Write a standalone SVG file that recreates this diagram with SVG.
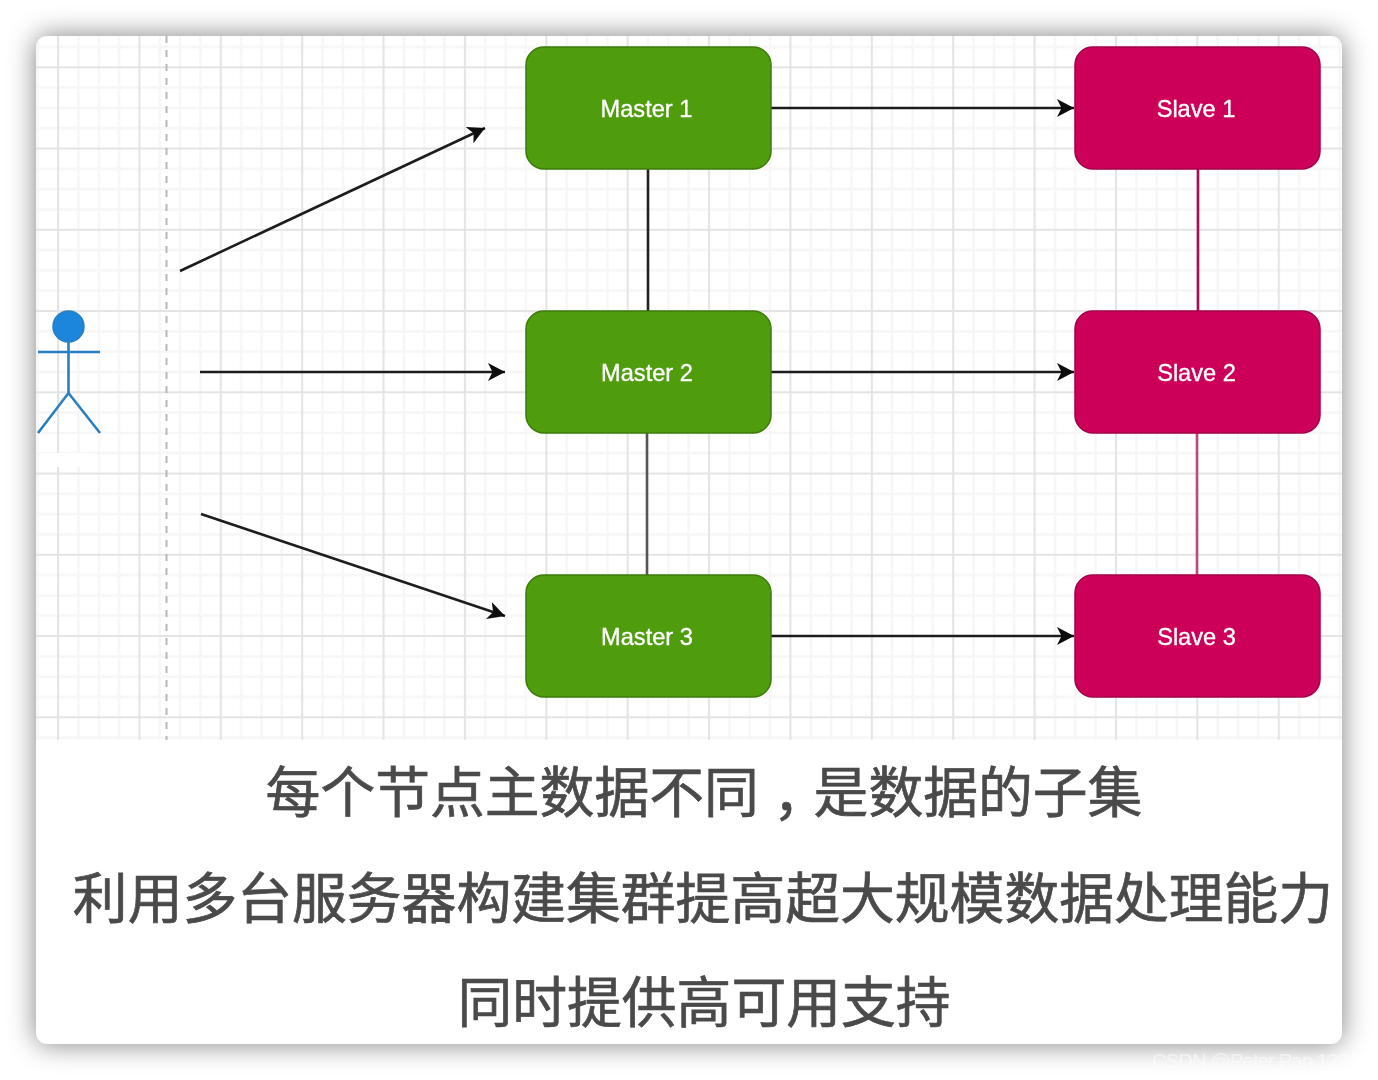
<svg xmlns="http://www.w3.org/2000/svg" width="1378" height="1080" viewBox="0 0 1378 1080">
  <style>
    .caption { font-family: "Liberation Sans", "Noto Sans CJK SC", sans-serif; font-size: 54.8px; fill: #4a4a4a; stroke: #4a4a4a; stroke-width: 0.7; text-anchor: middle; }
    .mark { font-family: "Liberation Sans", "Noto Sans CJK TC", sans-serif; }
    .label { font-family: "Liberation Sans", Arial, sans-serif; font-size: 23.6px; fill: #ffffff; stroke: #ffffff; stroke-width: 0.35; text-anchor: middle; }
    .master { fill: #4f9c10; stroke: #3c7a0a; stroke-width: 1.5; }
    .slave { fill: #cc0058; stroke: #a50048; stroke-width: 1.5; }
    .arrow { fill: none; stroke: #1c1c1c; stroke-width: 2.6; marker-end: url(#head); }
    .link { fill: none; stroke-width: 2.6; }
    .actor { fill: none; stroke: #2a7fc0; stroke-width: 2.6; }
  </style>
  <defs>
    <filter id="soft" x="-10%" y="-10%" width="120%" height="120%">
      <feGaussianBlur stdDeviation="14"/>
    </filter>
    <filter id="ease" x="-5%" y="-5%" width="110%" height="110%">
      <feGaussianBlur stdDeviation="0.55"/>
    </filter>
    <clipPath id="card"><rect x="36" y="36" width="1306" height="1008" rx="11"/></clipPath>
    <pattern id="grid" patternUnits="userSpaceOnUse" x="57" y="66.300" width="81.38" height="81.25">
      <path d="M21.35 0V81.25M41.7 0V81.25M62 0V81.25M0 21.3H81.38M0 41.6H81.38M0 61.9H81.38" stroke="#f6f6f6" stroke-width="2.4" fill="none"/>
      <path d="M1 0V81.25M0 1H81.38" stroke="#e4e4e4" stroke-width="2.2" fill="none"/>
    </pattern>
    <marker id="head" markerUnits="userSpaceOnUse" markerWidth="20" markerHeight="20" refX="17" refY="9" orient="auto">
      <path d="M0 0L17 9L0 18L4.500 9Z" fill="#0c0c0c"/>
    </marker>
  </defs>

  <!-- page and card -->
  <rect width="1378" height="1080" fill="#ffffff"/>
  <rect x="36" y="36" width="1306" height="1008" rx="11" fill="#000000" opacity="0.5" filter="url(#soft)"/>
  <rect x="36" y="36" width="1306" height="1008" rx="11" fill="#ffffff"/>

  <!-- drawing canvas grid -->
  <g clip-path="url(#card)">
    <rect x="36" y="36" width="1306" height="704" fill="url(#grid)"/>
    <rect x="40" y="453" width="55" height="14" fill="#ffffff" filter="url(#ease)"/>
  </g>
  <path d="M166.500 36V740" stroke="#b8b8b8" stroke-width="2" stroke-dasharray="7 7" fill="none"/>

  <!-- connectors -->
  <g id="connectors" filter="url(#ease)">
    <path class="link" d="M648 168V312" stroke="#222222"/>
    <path class="link" d="M647 432V576" stroke="#555555"/>
    <path class="link" d="M1198 168V312" stroke="#b00c55"/>
    <path class="link" d="M1197 432V576" stroke="#bb4a7c"/>
    <path class="arrow" d="M180 271L485 128"/>
    <path class="arrow" d="M200 372H505"/>
    <path class="arrow" d="M201 514L505 616"/>
    <path class="arrow" d="M771 108H1074"/>
    <path class="arrow" d="M771 372H1074"/>
    <path class="arrow" d="M771 636H1074"/>
  </g>

  <g id="actor" filter="url(#ease)">
    <circle cx="68.500" cy="326.500" r="15.500" fill="#1a86dd" stroke="#2a7fc0" stroke-width="1.500"/>
    <path class="actor" d="M68.500 342V393M38 352H100M38 433L68.500 393L100 433"/>
  </g>

  <g id="master-1" filter="url(#ease)"><rect class="master" x="526" y="47" width="245" height="122" rx="18"/><text class="label" x="646.500" y="116.500">Master 1</text></g>
  <g id="master-2" filter="url(#ease)"><rect class="master" x="526" y="311" width="245" height="122" rx="18"/><text class="label" x="647" y="380.500">Master 2</text></g>
  <g id="master-3" filter="url(#ease)"><rect class="master" x="526" y="575" width="245" height="122" rx="18"/><text class="label" x="647" y="644.500">Master 3</text></g>
  <g id="slave-1" filter="url(#ease)"><rect class="slave" x="1075" y="47" width="245" height="122" rx="18"/><text class="label" x="1196" y="116.500">Slave 1</text></g>
  <g id="slave-2" filter="url(#ease)"><rect class="slave" x="1075" y="311" width="245" height="122" rx="18"/><text class="label" x="1196.500" y="380.500">Slave 2</text></g>
  <g id="slave-3" filter="url(#ease)"><rect class="slave" x="1075" y="575" width="245" height="122" rx="18"/><text class="label" x="1196.500" y="644.500">Slave 3</text></g>

  <!-- caption -->
  <text class="caption" x="704" y="812">每个节点主数据不同<tspan class="mark" dy="19">，</tspan><tspan dy="-19">是数据的子集</tspan></text>
  <text class="caption" x="703" y="918">利用多台服务器构建集群提高超大规模数据处理能力</text>
  <text class="caption" x="704" y="1022">同时提供高可用支持</text>

  <text x="1152" y="1068" font-family="'Liberation Sans', Arial, sans-serif" font-size="20" textLength="207" fill="#ffffff" fill-opacity="0.55">CSDN @Peter Pan 1231</text>
</svg>
